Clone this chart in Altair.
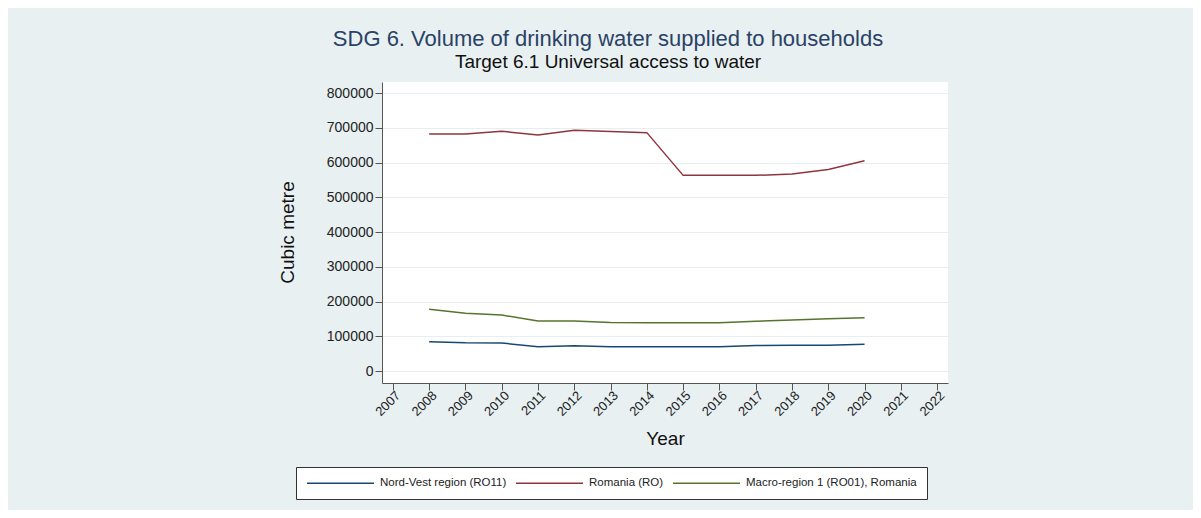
import altair as alt
import pandas as pd

years = [2008, 2009, 2010, 2011, 2012, 2013, 2014, 2015, 2016, 2017, 2018, 2019, 2020]
nord_vest = [84000, 81000, 80500, 70000, 73000, 70000, 70000, 70000, 70000, 73500, 74000, 74000, 77000]
romania = [682000, 682000, 690000, 679000, 693000, 689000, 686000, 563000, 563000, 563000, 567000, 580000, 605000]
macro = [177500, 166000, 161000, 144000, 144000, 139500, 139000, 139000, 139000, 143000, 147000, 150500, 153500]

series_names = ["Nord-Vest region (RO11)", "Romania (RO)", "Macro-region 1 (RO01), Romania"]
series_colors = ["#1a476f", "#90353b", "#55752f"]
x_ticks = list(range(2007, 2023))
y_ticks = [0, 100000, 200000, 300000, 400000, 500000, 600000, 700000, 800000]

rows = []
for name, vals in zip(series_names, [nord_vest, romania, macro]):
    for yr, v in zip(years, vals):
        rows.append({"Year": yr, "Value": v, "Series": name})
df = pd.DataFrame(rows)

chart = alt.Chart(df).mark_line(strokeWidth=1.5).encode(
    x=alt.X("Year:Q",
            scale=alt.Scale(domain=[2006.7, 2022.3], nice=False, zero=False),
            axis=alt.Axis(values=x_ticks, format="d", labelAngle=-45, labelAlign="right",
                          labelBaseline="middle", labelPadding=3, labelFontSize=13,
                          labelOffset=5,
                          grid=False, title="Year", titleFontSize=19, titleFontWeight="normal",
                          titleX=283, titleY=55, titleBaseline="middle", titleAlign="center")),
    y=alt.Y("Value:Q",
            scale=alt.Scale(domain=[-34500, 831700], nice=False, zero=False),
            axis=alt.Axis(values=y_ticks, format="d", labelFontSize=14, labelPadding=2,
                          grid=True, gridColor="#e6eef0", title="Cubic metre",
                          titleFontSize=19, titleFontWeight="normal", titleAngle=270,
                          titleX=-95, titleY=150, titleBaseline="middle", titleAlign="center")),
    color=alt.Color("Series:N",
                    scale=alt.Scale(domain=series_names, range=series_colors),
                    legend=alt.Legend(title=None, orient="none", legendX=-86, legendY=385,
                                      direction="horizontal", columns=3,
                                      symbolType="M-1,0H12.4", symbolSize=100,
                                      symbolStrokeWidth=1.5, labelFontSize=11.5, labelLimit=400,
                                      labelOffset=62, columnPadding=6, padding=10,
                                      strokeColor="#333333", fillColor="white",
                                      labelColor="#222222")),
).properties(
    width=566,
    height=301,
    autosize=alt.AutoSizeParams(type="none"),
    padding={"left": 374, "top": 74, "right": 245, "bottom": 127},
    title=alt.TitleParams(
        text="SDG 6. Volume of drinking water supplied to households",
        subtitle="Target 6.1 Universal access to water",
        anchor="middle", frame="group", dx=-57, offset=9,
        fontSize=22, fontWeight="normal", color="#2a4266",
        subtitleFontSize=19, subtitleColor="#111111", subtitlePadding=2,
    ),
).configure(
    background="#e8f0f2",
    font="Liberation Sans",
).configure_view(
    fill="white", stroke=None,
).configure_axis(
    domainColor="#555555", tickColor="#555555", tickSize=7,
    labelColor="#222222", titleColor="#111111",
)

chart.save("out.html", embed_options={"renderer": "svg", "actions": False})
